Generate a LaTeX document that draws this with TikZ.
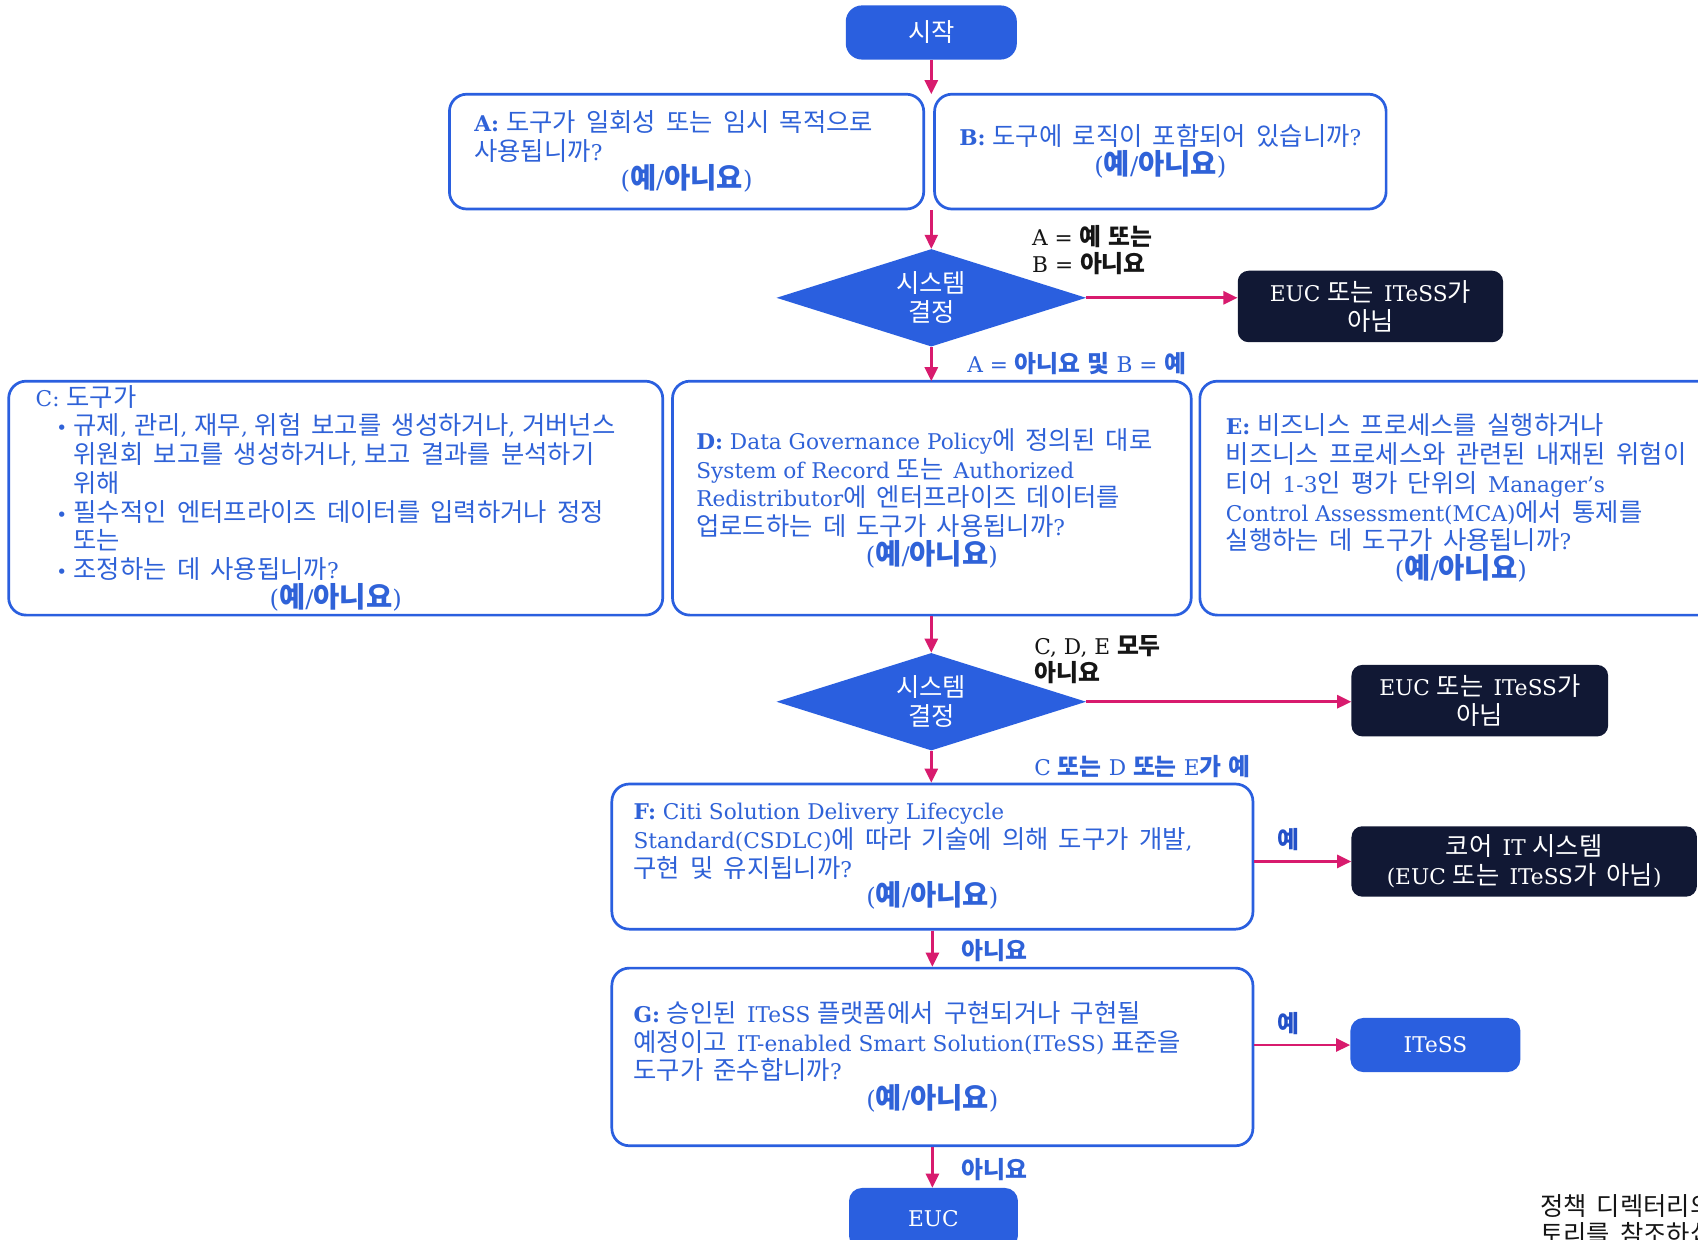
\documentclass[tikz,border=0pt]{standalone}
\usepackage{fontspec}
\setmainfont{DejaVu Serif}
\newfontfamily\krfont{Noto Sans CJK KR}[Scale=1.17, WordSpace=1.8]
\newfontfamily\krlab{Noto Sans CJK KR}[Scale=1.1, WordSpace=1.3]
\usetikzlibrary{shapes.geometric,arrows.meta}
% automatic switch to the Korean font for Hangul syllables
\newcommand\krsw{\krfont}
\newcommand\latsw{\rmfamily}
\XeTeXinterchartokenstate=1
\newXeTeXintercharclass\krclass
\count255="AC00
\loop
  \XeTeXcharclass\count255=\krclass
  \advance\count255 by 1
\ifnum\count255<"D7A4 \repeat
\XeTeXinterchartoks 0 \krclass={\krsw}
\XeTeXinterchartoks 4095 \krclass={\krsw}
\XeTeXinterchartoks \krclass 0={\latsw}
\XeTeXinterchartoks 4095 0={\latsw}

\definecolor{qblue}{HTML}{2A5FDF}
\definecolor{tblue}{HTML}{2F62D8}
\definecolor{lblue}{HTML}{2350C8}
\definecolor{navy}{HTML}{111834}
\definecolor{mag}{HTML}{D81B6E}
\definecolor{lblack}{HTML}{151515}

\newcommand\basefont{\fontsize{20}{26.5}\selectfont}
\newcommand\labfont{\fontsize{20}{25}\selectfont\def\krsw{\krlab\bfseries}\def\latsw{\rmfamily\mdseries}}
\newcommand\yn{{\fontsize{22.5}{28}\selectfont\def\krsw{\krfont\bfseries}\def\latsw{\rmfamily\mdseries}(예/아니요)}}
\newcommand\bul{\makebox[16pt][l]{\fontsize{17}{17}\selectfont\textbullet}}

\tikzset{
  qbox/.style={draw=qblue, line width=2.5pt, rounded corners=16pt, text=tblue, align=left, inner ysep=0pt},
  bluebox/.style={fill=qblue, text=white, align=center, inner sep=0pt, rounded corners=14pt},
  nbox/.style={fill=navy, text=white, align=center, inner sep=0pt, rounded corners=10pt},
  dia/.style={diamond, fill=qblue, text=white, align=center, inner sep=0pt, shape aspect=3.2, minimum width=286pt, minimum height=90pt},
  arr/.style={draw=mag, line width=2.5pt, -{Triangle[length=13pt,width=12pt]}},
  lab/.style={anchor=west, inner sep=0pt, align=left, font=\labfont},
}

\begin{document}
\begin{tikzpicture}[x=1pt,y=-1pt, every node/.style={font=\basefont}]
\useasboundingbox (0,0) rectangle (1568,1144.2);
\clip (0,0) rectangle (1568,1144.2);
\fill[white] (0,0) rectangle (1568,1144.2);

% nodes
\node[bluebox, minimum width=158pt, minimum height=50pt, rounded corners=15pt] (start) at (860,30) {시작};

\node[qbox, minimum width=438pt, minimum height=106pt, inner xsep=23pt] (A) at (634,140)
  {\textbf{A:} 도구가 일회성 또는 임시 목적으로\\사용됩니까?\\\makebox[392pt]{\yn}};
\node[qbox, align=center, minimum width=417pt, minimum height=106pt, inner xsep=10pt] (B) at (1071.5,140)
  {\textbf{B:} 도구에 로직이 포함되어 있습니까?\\\yn};

\coordinate (abtop) at (860,87);
\coordinate (abbot) at (860,194);

\node[dia] (d1) at (860,275) {시스템\\결정};
\node[nbox, minimum width=245pt, minimum height=66pt] (n1) at (1265.5,283) {EUC 또는 ITeSS가\\아님};

\coordinate (rowtop) at (860,352);
\coordinate (rowbot) at (860,569);

\node[qbox, minimum width=604pt, minimum height=216pt, inner xsep=25pt] (C) at (310,460)
  {C: 도구가\\
   \hspace*{19pt}\bul 규제, 관리, 재무, 위험 보고를 생성하거나, 거버넌스\\
   \hspace*{35pt}위원회 보고를 생성하거나, 보고 결과를 분석하기\\
   \hspace*{35pt}위해\\
   \hspace*{19pt}\bul 필수적인 엔터프라이즈 데이터를 입력하거나 정정\\
   \hspace*{35pt}또는\\
   \hspace*{19pt}\bul 조정하는 데 사용됩니까?\\
   \makebox[554pt]{\yn}};
\node[qbox, minimum width=479pt, minimum height=216pt, inner xsep=22pt] (D) at (860.5,460)
  {\textbf{D:} Data Governance Policy에 정의된 대로\\
   System of Record 또는 Authorized\\
   Redistributor에 엔터프라이즈 데이터를\\
   업로드하는 데 도구가 사용됩니까?\\
   \makebox[435pt]{\yn}};
\node[qbox, minimum width=482pt, minimum height=216pt, inner xsep=24pt] (E) at (1349,460)
  {\textbf{E:} 비즈니스 프로세스를 실행하거나\\
   비즈니스 프로세스와 관련된 내재된 위험이\\
   티어 1-3인 평가 단위의 Manager’s\\
   Control Assessment(MCA)에서 통제를\\
   실행하는 데 도구가 사용됩니까?\\
   \makebox[434pt]{\yn}};

\node[dia] (d2) at (860,648) {시스템\\결정};
\node[nbox, minimum width=237pt, minimum height=66pt] (n2) at (1366.5,647) {EUC 또는 ITeSS가\\아님};

\node[qbox, minimum width=592pt, minimum height=134pt, inner xsep=20pt] (F) at (861,791)
  {\textbf{F:} Citi Solution Delivery Lifecycle\\
   Standard(CSDLC)에 따라 기술에 의해 도구가 개발,\\
   구현 및 유지됩니까?\\
   \makebox[552pt]{\yn}};
\node[nbox, minimum width=319pt, minimum height=65pt] (core) at (1407.5,795.5) {코어 IT 시스템\\(EUC 또는 ITeSS가 아님)};

\node[qbox, minimum width=592pt, minimum height=164pt, inner xsep=20pt] (G) at (861,976)
  {\textbf{G:} 승인된 ITeSS 플랫폼에서 구현되거나 구현될\\
   예정이고 IT-enabled Smart Solution(ITeSS) 표준을\\
   도구가 준수합니까?\\
   \makebox[552pt]{\yn}};
\node[bluebox, minimum width=157pt, minimum height=50pt, rounded corners=12pt] (itess) at (1325.5,965) {ITeSS};

\node[bluebox, minimum width=156pt, minimum height=56pt, rounded corners=12pt] (euc) at (862,1125) {EUC};

\node[anchor=west, inner sep=0pt, align=left, text=lblack] (note) at (1422,1126.5) {정책 디렉터리의\\토리를 참조하십};

% labels
\node[lab, text=lblack] (l1) at (953,230.5) {A = 예 또는\\B = 아니요};
\node[lab, text=tblue] (l2) at (893,336) {A = 아니요 및 B = 예};
\node[lab, text=lblack] (l3) at (955,609.5) {C, D, E 모두\\아니요};
\node[lab, text=tblue] (l4) at (955,708) {C 또는 D 또는 E가 예};
\node[lab, anchor=center, text=lblue] (l5) at (1190,775) {예};
\node[lab, text=tblue] (l6) at (888,878) {아니요};
\node[lab, anchor=center, text=lblue] (l7) at (1190,945) {예};
\node[lab, text=tblue] (l8) at (888,1080) {아니요};

% connectors
\draw[arr] (start.south) -- (abtop);
\draw[arr] (abbot) -- (d1.north);
\draw[arr] (d1.east) -- (d1.east -| n1.west);
\draw[arr] (d1.south) -- (rowtop);
\draw[arr] (rowbot) -- (d2.north);
\draw[arr] (d2.east) -- (d2.east -| n2.west);
\draw[arr] (d2.south) -- (d2.south |- F.north);
\draw[arr] (F.south) -- (G.north);
\draw[arr] (G.south) -- (G.south |- euc.north);
\draw[arr] (core.west -| F.east) -- (core.west);
\draw[arr] (itess.west -| G.east) -- (itess.west);
\end{tikzpicture}
\end{document}
